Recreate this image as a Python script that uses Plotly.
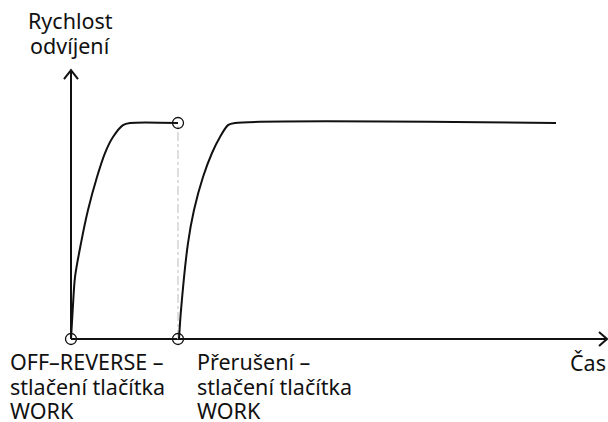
import plotly.graph_objects as go

W, H = 608, 422
X0, Y0 = 71, 339          # pixel position of the origin
PX_T, PX_V = 100, 216     # pixels per unit of time / speed

# first run (start until interruption)
t_run1 = [0, 0.017, 0.04, 0.10, 0.17, 0.26, 0.34, 0.42, 0.52, 0.59, 1.07]
v_run1 = [0, 0.134, 0.287, 0.444, 0.597, 0.75, 0.861, 0.935, 0.99, 1.0, 1.0]

# second run (after pressing WORK again)
t_run2 = [1.08, 1.10, 1.17, 1.23, 1.32, 1.41, 1.49, 1.57, 1.64, 4.85]
v_run2 = [0, 0.134, 0.444, 0.597, 0.75, 0.861, 0.935, 0.99, 1.0, 1.0]

t_stop = 1.07
event_t = [0, t_stop, t_stop]
event_v = [0, 0, 1.0]

t_axis_end = 5.36
v_axis_end = 1.245

y_label = ["Rychlost", "odvíjení"]
x_label = "Čas"
event_labels = [["OFF–REVERSE –", "stlačení tlačítka", "WORK"],
                ["Přerušení –", "stlačení tlačítka", "WORK"]]


def tx(px):
    return (px - X0) / PX_T


def vy(py):
    return (Y0 - py) / PX_V


ink = "#111111"
fig = go.Figure()

# axes
fig.add_trace(go.Scatter(x=[0, t_axis_end], y=[0, 0], mode="lines",
                         line=dict(color=ink, width=2), hoverinfo="skip"))
fig.add_trace(go.Scatter(x=[0, 0], y=[0, v_axis_end], mode="lines",
                         line=dict(color=ink, width=2), hoverinfo="skip"))

# arrow heads (open chevrons)
ah = 7
fig.add_trace(go.Scatter(
    x=[-ah / PX_T, 0, ah / PX_T], y=[v_axis_end - 9 / PX_V, v_axis_end, v_axis_end - 9 / PX_V],
    mode="lines", line=dict(color=ink, width=2), hoverinfo="skip"))
fig.add_trace(go.Scatter(
    x=[t_axis_end - 8 / PX_T, t_axis_end, t_axis_end - 8 / PX_T], y=[ah / PX_V, 0, -ah / PX_V],
    mode="lines", line=dict(color=ink, width=2), hoverinfo="skip"))

# interruption marker line
fig.add_trace(go.Scatter(x=[t_stop, t_stop], y=[0, 1.0], mode="lines",
                         line=dict(color="#d3d3d3", width=1.5, dash="dashdot"), hoverinfo="skip"))

# speed curves
for t, v in [(t_run1, v_run1), (t_run2, v_run2)]:
    fig.add_trace(go.Scatter(x=t, y=v, mode="lines",
                             line=dict(color=ink, width=2, shape="spline", smoothing=0.8),
                             hoverinfo="skip"))

fig.add_trace(go.Scatter(x=event_t, y=event_v, mode="markers",
                         marker=dict(symbol="circle-open", size=11, color=ink, line=dict(width=1.3)),
                         hoverinfo="skip"))

FS = 21.5
LEAD = 24.5
font = dict(family="Noto Sans", size=FS, color=ink)


def text_block(lines, left, baseline, center=False):
    # one annotation per line so the leading stays tight (paper refs so nothing gets hidden)
    for i, s in enumerate(lines):
        b = baseline + i * LEAD
        fig.add_annotation(x=left / W, y=1 - (b + 0.28 * FS) / H, text=s, showarrow=False,
                           xref="paper", yref="paper", xanchor="center" if center else "left",
                           yanchor="bottom", borderpad=0, font=font)


text_block(y_label, 70, 30, center=True)
text_block([x_label], 569, 372)
text_block(event_labels[0], 9, 371)
text_block(event_labels[1], 196, 371)

fig.update_layout(
    width=W, height=H,
    margin=dict(l=0, r=0, t=0, b=0),
    paper_bgcolor="white", plot_bgcolor="white",
    showlegend=False,
    xaxis=dict(range=[tx(0), tx(W)], visible=False, fixedrange=True),
    yaxis=dict(range=[vy(H), vy(0)], visible=False, fixedrange=True),
)

# drop the default body margin so the figure fills the window exactly
fig.write_html("out.html", config={"displayModeBar": False},
               post_script="document.body.style.margin='0';")
